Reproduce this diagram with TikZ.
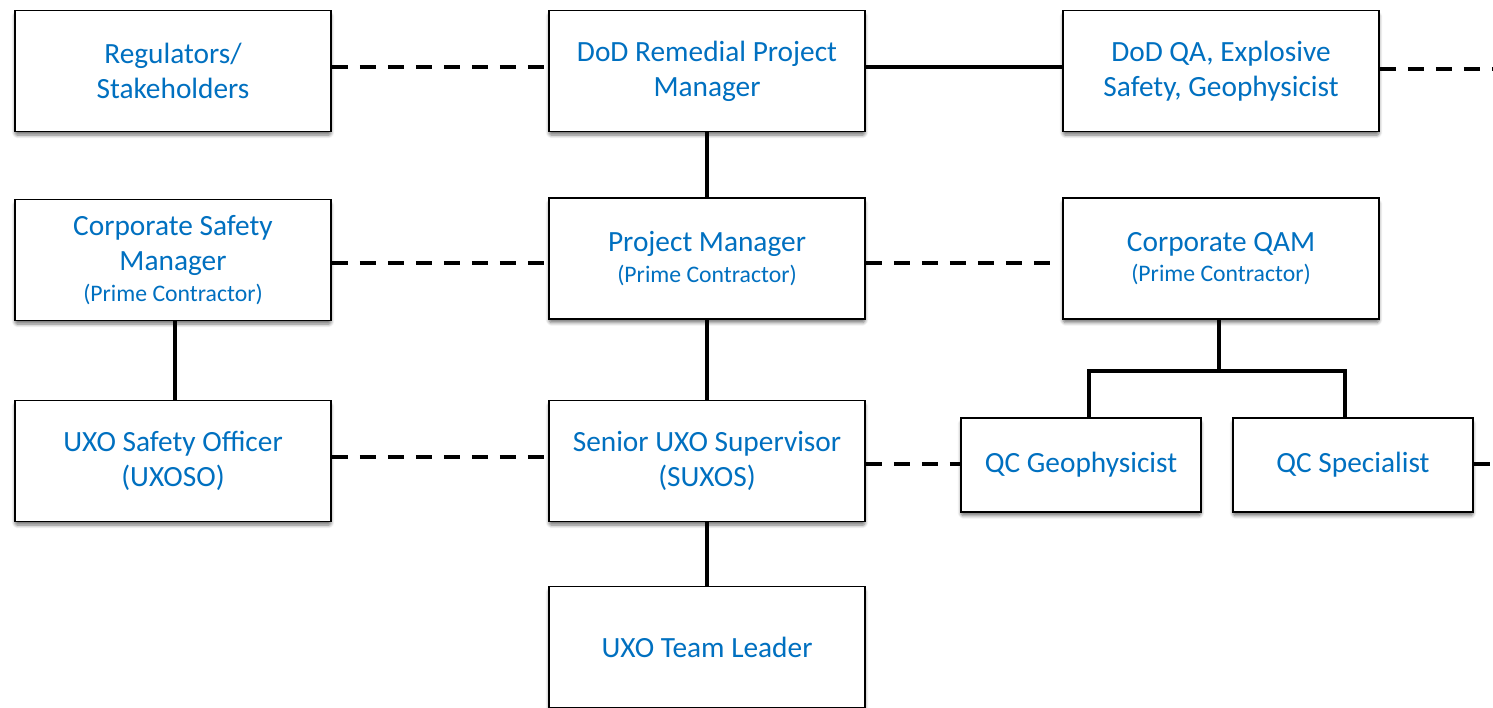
\documentclass[tikz,border=0pt]{standalone}
\usepackage{fontspec}
\setmainfont{Carlito}
\usetikzlibrary{shadows.blur}
\definecolor{txtblue}{HTML}{0070C0}
\tikzset{
  box/.style={draw=black, line width=1.1pt, fill=white, minimum width=6.32cm, minimum height=2.42cm,
    align=center, text=txtblue, font=\fontsize{16.7}{20}\selectfont, inner sep=2pt,
    blur shadow={shadow xshift=0pt, shadow yshift=-2pt, shadow blur steps=6, shadow opacity=55, shadow blur extra rounding=1pt}},
  qcbox/.style={box, minimum width=4.8cm, minimum height=1.88cm},
  solidline/.style={line width=2.1pt},
  dashline/.style={line width=2.1pt, dash pattern=on 0.32cm off 0.24cm}
}
\newcommand{\smalltxt}[1]{{\fontsize{13.5}{16}\selectfont #1}}
\begin{document}
\begin{tikzpicture}[x=0.02cm,y=-0.02cm]
\useasboundingbox (0,0) rectangle (1493,707);
\clip (0,0) rectangle (1493,707);
\node[box] (reg) at (173,71) {Regulators/\\Stakeholders};
\node[box] (dodpm) at (707,71) {DoD Remedial Project\\Manager};
\node[box] (dodqa) at (1221,71) {DoD QA, Explosive\\Safety, Geophysicist};
\node[box] (csm) at (173,260) {Corporate Safety\\Manager\\[-2.5pt]\smalltxt{(Prime Contractor)}};
\node[box] (pm) at (707,258.5) {Project Manager\\[-2.5pt]\smalltxt{(Prime Contractor)}};
\node[box] (qam) at (1221,258.5) {Corporate QAM\\[-2.5pt]\smalltxt{(Prime Contractor)}};
\node[box] (uxoso) at (173,461) {UXO Safety Officer\\(UXOSO)};
\node[box] (suxos) at (707,461) {Senior UXO Supervisor\\(SUXOS)};
\node[qcbox] (qcg) at (1081,465) {QC Geophysicist};
\node[qcbox] (qcs) at (1353,465) {QC Specialist};
\node[box] (tl) at (707,647) {UXO Team Leader};
\coordinate (e1) at (1493,69);
\coordinate (e2) at (1493,464);
\coordinate (br) at (1219,371);

\draw[dashline] (reg.east |- 0,67) -- (dodpm.west |- 0,67);
\draw[solidline] (dodpm.east |- 0,67) -- (dodqa.west |- 0,67);
\draw[dashline] (dodqa.east |- e1) -- (e1);
\draw[solidline] (dodpm.south) -- (pm.north);
\draw[dashline] (csm.east |- 0,263) -- (pm.west |- 0,263);
\draw[dashline] (pm.east |- 0,263) -- (qam.west |- 0,263);
\draw[solidline] (175,321) -- (uxoso.north -| 175,0);
\draw[solidline] (pm.south) -- (suxos.north);
\draw[dashline] (uxoso.east |- 0,457) -- (suxos.west |- 0,457);
\draw[dashline] (suxos.east |- 0,464) -- (qcg.west |- e2);
\draw[dashline] (qcs.east |- e2) -- (e2);
\draw[solidline] (suxos.south) -- (tl.north);
\draw[solidline] (qam.south -| br) -- (br);
\draw[solidline] (qcg.north -| 1089,0) -- (1089,371) -- (1345,371) -- (qcs.north -| 1345,0);
\end{tikzpicture}
\end{document}
